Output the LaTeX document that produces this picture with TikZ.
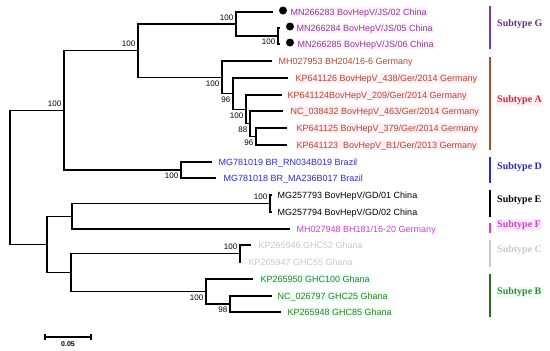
\documentclass[tikz,border=0pt]{standalone}
\usepackage{fontspec}
\setmainfont{Liberation Sans}
\newfontfamily\subfont{Liberation Serif}
\usepackage{xcolor}
\usepackage{tikz}
\usetikzlibrary{calc}
\definecolor{gcol}{HTML}{8E3A9E}
\definecolor{glab}{HTML}{6A2A90}
\definecolor{gbar}{HTML}{7A3AA8}
\definecolor{acol}{HTML}{B04A2E}
\definecolor{alab}{HTML}{D42A2A}
\definecolor{abar}{HTML}{A5502A}
\definecolor{dcol}{HTML}{2A2AD8}
\definecolor{dlab}{HTML}{2A2AB0}
\definecolor{fcol}{HTML}{D43CD8}
\definecolor{ccol}{HTML}{C8C8C8}
\definecolor{bcol}{HTML}{3A7A22}
\definecolor{blab}{HTML}{3A8A2E}
\definecolor{bbar}{HTML}{2E6B1E}
\definecolor{pinkbg}{HTML}{FFEEF4}
\definecolor{lpinkbg}{HTML}{FFF3F9}
\definecolor{fbg}{HTML}{FDEAFB}
\definecolor{mintbg}{HTML}{EAFFF7}
\tikzset{
  br/.style={line width=1.1pt,black},
  lf/.style={font=\fontsize{9}{10}\selectfont,anchor=west,inner xsep=1pt,inner ysep=1.5pt,xshift=-1.5pt,text height=6.5pt,text depth=0pt},
  bsu/.style={font=\fontsize{8}{9}\selectfont,anchor=south east,inner sep=0pt,xshift=-2.5pt,yshift=3.5pt},
  bsd/.style={font=\fontsize{8}{9}\selectfont,anchor=north east,inner sep=0pt,xshift=-2.5pt,yshift=-3pt},
  dot/.style={circle,fill=black,inner sep=0pt,minimum size=8pt},
  sbar/.style={line width=1.2pt},
  sub/.style={font=\subfont\bfseries\fontsize{10}{11}\selectfont,anchor=west,inner xsep=1pt,inner ysep=1pt}
}
\newcommand{\tleaf}[7]{\coordinate (#1) at (#3,#4); \draw[br] (#2) |- (#1);
  \node[lf,#6] (#1t) at (#5,#4) {#7};}
\newcommand{\subt}[6]{\draw[sbar,#2] (490,#3) -- (490,#4);
  \node[sub,#5] (#1) at (496,{(#3+#4)/2-3}) {Subtype #6};}

\begin{document}
\begin{tikzpicture}[x=1pt,y=-1pt]
\useasboundingbox (0,0) rectangle (550,351);
% inner nodes of the tree
\coordinate (r) at (10,177.35);
\coordinate (u) at (64,110.3);
\coordinate (l) at (47,244.4);
\coordinate (ga) at (138,50.7);
\coordinate (g1) at (236,24);
\coordinate (g2) at (278,36);
\coordinate (a1) at (222,77.35);
\coordinate (a2) at (233,93.7);
\coordinate (a3) at (246,109.4);
\coordinate (a4) at (250,123.75);
\coordinate (a5) at (256,136.5);
\coordinate (d) at (181,170);
\coordinate (ef) at (72,216.25);
\coordinate (e) at (270,203.5);
\coordinate (cb) at (71,272.5);
\coordinate (c) at (240,253.5);
\coordinate (b) at (206,291.5);
\coordinate (b2) at (230,304);
\foreach \p/\q in {r/u,r/l,u/ga,u/d,ga/g1,ga/a1,g1/g2,a1/a2,a2/a3,a3/a4,a4/a5,l/ef,l/cb,ef/e,cb/c,cb/b,b/b2}
  \draw[br] (\p) |- (\q);
% leaves
\tleaf{mn83}{g1}{273}{12}{291}{text=gcol,fill=lpinkbg}{MN266283 BovHepV/JS/02 China}
\tleaf{mn84}{g2}{280}{28}{297}{text=gcol,fill=lpinkbg}{MN266284 BovHepV/JS/05 China}
\tleaf{mn85}{g2}{280}{44}{298}{text=gcol,fill=lpinkbg}{MN266285 BovHepV/JS/06 China}
\tleaf{mh53}{a1}{272}{61}{279}{text=acol}{MH027953 BH204/16-6 Germany}
\tleaf{kp26}{a2}{288}{78}{296}{text=acol,fill=pinkbg}{KP641126 BovHepV\_438/Ger/2014 Germany}
\tleaf{kp24}{a3}{282}{95}{288}{text=acol,fill=pinkbg}{KP641124BovHepV\_209/Ger/2014 Germany}
\tleaf{nc32}{a4}{283}{111}{291}{text=acol,fill=pinkbg}{NC\_038432 BovHepV\_463/Ger/2014 Germany}
\tleaf{kp25}{a5}{287}{128}{297}{text=acol,fill=pinkbg}{KP641125 BovHepV\_379/Ger/2014 Germany}
\tleaf{kp23}{a5}{287}{145}{297}{text=acol,fill=pinkbg}{KP641123\ \ BovHepV\_B1/Ger/2013 Germany}
\tleaf{mg19}{d}{212}{162}{219}{text=dcol}{MG781019 BR\_RN034B019 Brazil}
\tleaf{mg18}{d}{216}{178}{224}{text=dcol}{MG781018 BR\_MA236B017 Brazil}
\tleaf{mg93}{e}{272}{195}{278}{text=black}{MG257793 BovHepV/GD/01 China}
\tleaf{mg94}{e}{272}{212}{278}{text=black}{MG257794 BovHepV/GD/02 China}
\tleaf{mh48}{ef}{290}{229}{297}{text=fcol}{MH027948 BH181/16-20 Germany}
\tleaf{kp46}{c}{251}{245}{259}{text=ccol}{KP265946 GHC52 Ghana}
\tleaf{kp47}{c}{241}{262}{249}{text=ccol}{KP265947 GHC55 Ghana}
\tleaf{kp50}{b}{253}{279}{261}{text=bcol,fill=mintbg}{KP265950 GHC100 Ghana}
\tleaf{nc97}{b2}{272}{296}{278}{text=bcol,fill=mintbg}{NC\_026797 GHC25 Ghana}
\tleaf{kp48}{b2}{281}{312}{288}{text=bcol,fill=mintbg}{KP265948 GHC85 Ghana}
\node[dot] (p83) at (283,10.5) {};
\node[dot] (p84) at (290,26.5) {};
\node[dot] (p85) at (290,42.5) {};
% bootstrap values
\node[bsu] (bu) at (u) {100};
\node[bsu] (bga) at (ga) {100};
\node[bsu] (bg1) at (g1) {100};
\node[bsd] (bg2) at (g2) {100};
\node[bsd] (ba1) at (a1) {100};
\node[bsd] (ba2) at (a2) {96};
\node[bsd] (ba3) at (a3) {100};
\node[bsd] (ba4) at (a4) {88};
\node[bsd] (ba5) at (a5) {96};
\node[bsd] (bd) at (d) {100};
\node[bsu] (be) at (e) {100};
\node[bsu] (bc) at (c) {100};
\node[bsd] (bb) at (b) {100};
\node[bsd] (bb2) at (b2) {98};
% subtypes
\subt{sg}{gbar}{6}{49}{text=glab}{G}
\subt{sa}{abar}{57}{150}{text=alab,fill=pinkbg}{A}
\subt{sd}{dcol}{157}{183}{text=dlab}{D}
\subt{se}{black}{190}{217}{text=black}{E}
\subt{sf}{fcol}{223}{233}{text=fcol,fill=fbg}{F}
\subt{sc}{ccol}{240}{267}{text=ccol}{C}
\subt{sb}{bbar}{274}{317}{text=blab,fill=mintbg}{B}
% scale bar
\coordinate (s0) at (45,337);
\coordinate (s1) at (91,337);
\draw[br] (s0) -- (s1);
\draw[br] ([yshift=3pt]s0) -- ([yshift=-3pt]s0) ([yshift=3pt]s1) -- ([yshift=-3pt]s1);
\node[font=\bfseries\fontsize{7}{8}\selectfont,inner sep=0pt] (sl) at (68,344.5) {0.05};
\end{tikzpicture}
\end{document}
